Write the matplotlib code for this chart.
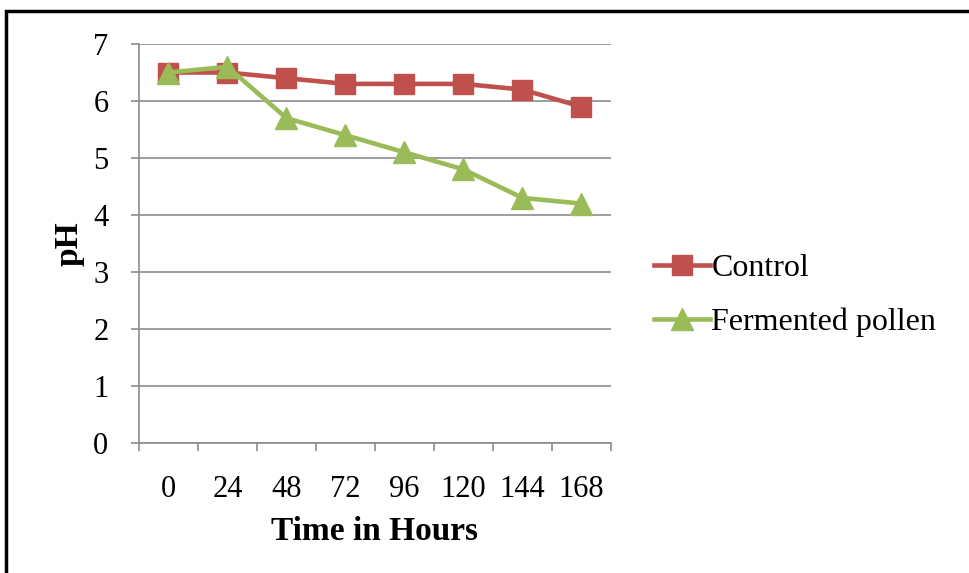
import matplotlib.pyplot as plt
from matplotlib.patches import Rectangle

# data
hours = ['0', '24', '48', '72', '96', '120', '144', '168']
control = [6.5, 6.5, 6.4, 6.3, 6.3, 6.3, 6.2, 5.9]
fermented = [6.5, 6.6, 5.7, 5.4, 5.1, 4.8, 4.3, 4.2]

red = '#C0504D'
green = '#9BBB59'
grid_col = '#8C8C8C'

plt.rcParams['font.family'] = ['Liberation Serif', 'DejaVu Serif']

fig = plt.figure(figsize=(9.69, 5.73), dpi=100)
ax = fig.add_axes([0.1434, 0.2269, 0.4871, 0.6963])

x = list(range(len(hours)))
ax.plot(x, control, color=red, lw=3.3, marker='s', ms=15, label='Control')
ax.plot(x, fermented, color=green, lw=3.3, marker='^', ms=16, label='Fermented pollen')

ax.set_xlim(-0.5, len(hours) - 0.5)
ax.set_ylim(0, 7)
ax.set_yticks(range(0, 8))
ax.set_xticks(x)
ax.set_xticklabels(hours)
ax.set_xticks([i - 0.5 for i in range(len(hours) + 1)], minor=True)
ax.tick_params(axis='x', which='major', length=0, labelsize=22, pad=23)
ax.tick_params(axis='x', which='minor', length=6, color=grid_col, width=1.2)
ax.tick_params(axis='y', length=6, color=grid_col, width=1.2, labelsize=22, pad=16)

ax.grid(axis='y', color=grid_col, lw=1.2)
ax.set_axisbelow(True)
for s in ['top', 'right']:
    ax.spines[s].set_visible(False)
for s in ['left', 'bottom']:
    ax.spines[s].set_color(grid_col)
    ax.spines[s].set_linewidth(1.2)

ax.set_xlabel('Time in Hours', fontsize=24, fontweight='bold', labelpad=9)
ax.set_ylabel('pH', fontsize=24, fontweight='bold', labelpad=6)

leg = ax.legend(loc='center left', bbox_to_anchor=(1.03, 0.37), frameon=False,
                fontsize=23, handlelength=1.75, handletextpad=0.05, labelspacing=0.75)

# outer frame like the original screenshot
fig.patches.append(Rectangle((0.006, -0.05), 1.05, 1.03, transform=fig.transFigure,
                             fill=False, edgecolor='black', lw=2.5))

fig.savefig('out.png', dpi=100)
